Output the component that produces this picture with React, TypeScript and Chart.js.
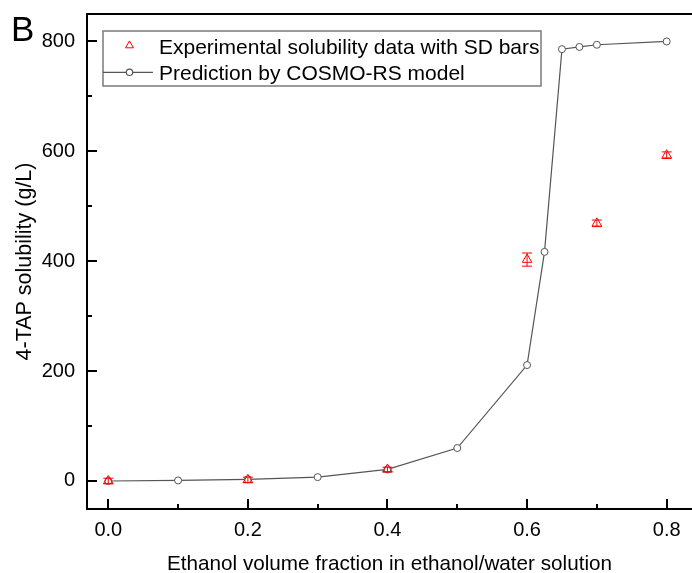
import React, { useEffect, useRef } from 'react';
import { Chart, registerables } from 'chart.js';

Chart.register(...registerables);

// ---- data ----
const expX = [0, 0.2, 0.4, 0.6, 0.7, 0.8];
const expY = [0, 2, 21, 403, 469, 593];
const expSD = [5, 5, 4, 12, 6, 6];

const predX = [0, 0.1, 0.2, 0.3, 0.4, 0.5, 0.6, 0.625, 0.65, 0.675, 0.7, 0.8];
const predY = [0, 1, 3, 7, 21, 60, 211, 417, 786, 790, 794, 800];

const xMajorTicks = [0, 0.2, 0.4, 0.6, 0.8];
const xMinorTicks = [0.1, 0.3, 0.5, 0.7];
const yMajorTicks = [0, 200, 400, 600, 800];
const yMinorTicks = [100, 300, 500, 700];

const legendLabels = ['Experimental solubility data with SD bars', 'Prediction by COSMO-RS model'];
const xTitle = 'Ethanol volume fraction in ethanol/water solution';
const yTitle = '4-TAP solubility (g/L)';
const panelLabel = 'B';

const FONT = "'Liberation Sans', Arial, Helvetica, sans-serif";

const decor = {
  id: 'decor',
  afterDatasetsDraw(chart: any) {
    const { ctx, scales } = chart;
    const x = scales.x, y = scales.y;
    ctx.save();
    ctx.strokeStyle = '#ff0000';
    ctx.lineWidth = 1;
    expX.forEach((xv, i) => {
      const px = x.getPixelForValue(xv);
      const t = y.getPixelForValue(expY[i] + expSD[i]);
      const b = y.getPixelForValue(expY[i] - expSD[i]);
      ctx.beginPath();
      ctx.moveTo(px, t); ctx.lineTo(px, b);
      ctx.moveTo(px - 5, t); ctx.lineTo(px + 5, t);
      ctx.moveTo(px - 5, b); ctx.lineTo(px + 5, b);
      ctx.stroke();
    });
    ctx.restore();
  },
  afterDraw(chart: any) {
    const { ctx, chartArea: ca, scales } = chart;
    const x = scales.x, y = scales.y;
    ctx.save();
    // top frame line
    ctx.strokeStyle = '#000';
    ctx.lineWidth = 2;
    ctx.beginPath();
    ctx.moveTo(ca.left - 1, ca.top);
    ctx.lineTo(ca.right + 2, ca.top);
    ctx.stroke();
    // inward ticks
    ctx.lineWidth = 2;
    ctx.beginPath();
    xMajorTicks.forEach(v => { const p = Math.round(x.getPixelForValue(v)); ctx.moveTo(p, ca.bottom); ctx.lineTo(p, ca.bottom - 10); });
    xMinorTicks.forEach(v => { const p = Math.round(x.getPixelForValue(v)); ctx.moveTo(p, ca.bottom); ctx.lineTo(p, ca.bottom - 5); });
    yMajorTicks.forEach(v => { const p = Math.round(y.getPixelForValue(v)); ctx.moveTo(ca.left, p); ctx.lineTo(ca.left + 10, p); });
    yMinorTicks.forEach(v => { const p = Math.round(y.getPixelForValue(v)); ctx.moveTo(ca.left, p); ctx.lineTo(ca.left + 5, p); });
    ctx.stroke();

    // legend
    const bx = 103, by = 31, bw = 438, bh = 55;
    ctx.strokeStyle = '#7a7a7a';
    ctx.lineWidth = 1.5;
    ctx.strokeRect(bx, by, bw, bh);
    // triangle marker
    const tx = 129.5, ty = 45.5, r = 4.6;
    ctx.strokeStyle = '#ff0000';
    ctx.lineWidth = 1;
    ctx.beginPath();
    for (let k = 0; k < 3; k++) {
      const a = (k * 2 * Math.PI) / 3;
      const px = tx + Math.sin(a) * r, py = ty - Math.cos(a) * r;
      if (k === 0) ctx.moveTo(px, py); else ctx.lineTo(px, py);
    }
    ctx.closePath();
    ctx.stroke();
    // line + circle marker
    ctx.strokeStyle = '#555';
    ctx.lineWidth = 1.2;
    ctx.beginPath();
    ctx.moveTo(103, 72.3); ctx.lineTo(153, 72.3);
    ctx.stroke();
    ctx.beginPath();
    ctx.arc(129.5, 72.3, 3.2, 0, Math.PI * 2);
    ctx.fillStyle = '#fff';
    ctx.fill();
    ctx.stroke();
    ctx.fillStyle = '#000';
    ctx.font = `21px ${FONT}`;
    ctx.textAlign = 'left';
    ctx.textBaseline = 'alphabetic';
    ctx.fillText(legendLabels[0], 159, 53.5);
    ctx.fillText(legendLabels[1], 159, 79.5);

    // panel label
    ctx.font = `35px ${FONT}`;
    ctx.fillText(panelLabel, 11, 41);
    ctx.restore();
  },
};

export default function App() {
  const ref = useRef<HTMLCanvasElement>(null);
  useEffect(() => {
    if (!ref.current) return;
    const chart = new Chart(ref.current, {
      type: 'scatter',
      data: {
        datasets: [
          {
            label: legendLabels[0],
            data: expX.map((v, i) => ({ x: v, y: expY[i] })),
            showLine: false,
            pointStyle: 'triangle',
            pointRadius: 5.5,
            pointBorderColor: '#ff0000',
            pointBackgroundColor: 'rgba(255,255,255,0)',
            pointBorderWidth: 1,
          },
          {
            label: legendLabels[1],
            data: predX.map((v, i) => ({ x: v, y: predY[i] })),
            showLine: true,
            borderColor: '#555',
            borderWidth: 1.2,
            pointStyle: 'circle',
            pointRadius: 3.5,
            pointBorderColor: '#555',
            pointBackgroundColor: '#fff',
            pointBorderWidth: 1,
          },
        ],
      },
      options: {
        responsive: false,
        animation: false,
        devicePixelRatio: 1,
        layout: { autoPadding: false, padding: { top: 14, left: 0, right: 0, bottom: 0 } },
        plugins: { legend: { display: false }, tooltip: { enabled: false } },
        scales: {
          x: {
            type: 'linear',
            min: -0.0305,
            max: 0.8363,
            afterBuildTicks: (s: any) => { s.ticks = xMajorTicks.map(v => ({ value: v })); },
            afterFit: (s: any) => { s.height = 64; s.paddingLeft = 0; s.paddingRight = 0; s.paddingTop = 0; s.paddingBottom = 0; },
            grid: { display: false, drawTicks: false },
            border: { display: true, color: '#000', width: 2 },
            ticks: {
              color: '#000',
              font: { family: FONT, size: 20 },
              padding: 9,
              maxRotation: 0,
              autoSkip: false,
              callback: (v: any) => Number(v).toFixed(1),
            },
            title: {
              display: true,
              text: xTitle,
              color: '#000',
              font: { family: FONT, size: 20.7, lineHeight: 1 },
              padding: { top: 0, bottom: -2 },
            },
          },
          y: {
            type: 'linear',
            min: -51,
            max: 850,
            afterBuildTicks: (s: any) => { s.ticks = yMajorTicks.map(v => ({ value: v })); },
            afterFit: (s: any) => { s.width = 87; s.paddingLeft = 0; s.paddingRight = 0; s.paddingTop = 0; s.paddingBottom = 0; },
            grid: { display: false, drawTicks: false },
            border: { display: true, color: '#000', width: 2 },
            ticks: {
              color: '#000',
              font: { family: FONT, size: 20 },
              padding: 12,
              autoSkip: false,
              callback: (v: any) => String(v),
            },
            title: {
              display: true,
              text: yTitle,
              color: '#000',
              font: { family: FONT, size: 21.5, lineHeight: 1 },
              padding: { top: 14.5, bottom: 0 },
            },
          },
        },
      },
      plugins: [decor],
    });
    return () => chart.destroy();
  }, []);
  return (
    <div style={{ position: 'fixed', left: 0, top: 0, width: 692, height: 573, background: '#fff' }}>
      <canvas ref={ref} width={692} height={573} style={{ display: 'block' }} />
    </div>
  );
}
